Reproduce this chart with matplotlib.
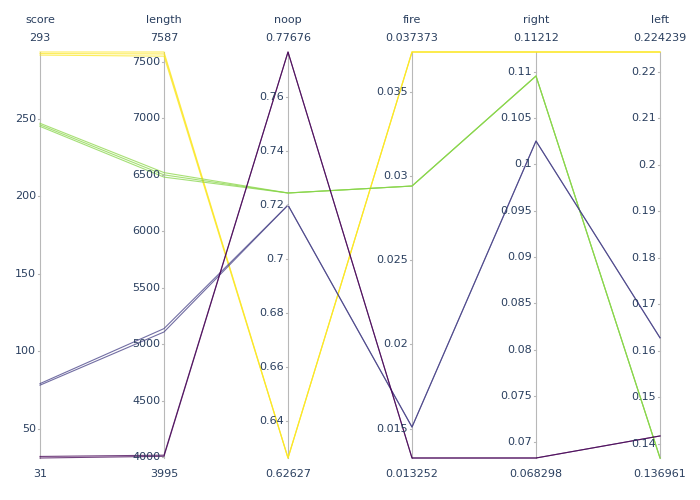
import matplotlib.pyplot as plt
import numpy as np

dims = ['score', 'length', 'noop', 'fire', 'right', 'left']
lo = [31, 3995, 0.62627, 0.013252, 0.068298, 0.136961]
hi = [293, 7587, 0.77676, 0.037373, 0.11212, 0.224239]
lo_lbl = ['31', '3995', '0.62627', '0.013252', '0.068298', '0.136961']
hi_lbl = ['293', '7587', '0.77676', '0.037373', '0.11212', '0.224239']
ticks = [
    [50, 100, 150, 200, 250],
    [4000, 4500, 5000, 5500, 6000, 6500, 7000, 7500],
    [0.64, 0.66, 0.68, 0.70, 0.72, 0.74, 0.76],
    [0.015, 0.02, 0.025, 0.03, 0.035],
    [0.07, 0.075, 0.08, 0.085, 0.09, 0.095, 0.1, 0.105, 0.11],
    [0.14, 0.15, 0.16, 0.17, 0.18, 0.19, 0.2, 0.21, 0.22],
]

score = [293, 292, 291, 247, 246, 245, 79, 78, 31, 32]
length = [7587, 7570, 7550, 6520, 6500, 6480, 5140, 5110, 4010, 4020]
noop = [0.62627, 0.62627, 0.62627, 0.7245, 0.7245, 0.7245, 0.7200, 0.7200, 0.77676, 0.77676]
fire = [0.037373, 0.037373, 0.037373, 0.02941, 0.02941, 0.02941, 0.01509, 0.01509, 0.013252, 0.013252]
right = [0.11212, 0.11212, 0.11212, 0.10953, 0.10953, 0.10953, 0.10251, 0.10251, 0.068298, 0.068298]
left = [0.224239, 0.224239, 0.224239, 0.136961, 0.136961, 0.136961, 0.1628, 0.1628, 0.1417, 0.1417]

data = np.array([score, length, noop, fire, right, left], dtype=float)
norm = (data - np.array(lo)[:, None]) / (np.array(hi) - np.array(lo))[:, None]

txt = '#2a3f5f'
fig = plt.figure(figsize=(7, 5), dpi=100)
ax = fig.add_axes([40 / 700, 42 / 500, 620 / 700, 406 / 500])
ax.set_xlim(0, 5)
ax.set_ylim(0, 1)
ax.axis('off')

cmap = plt.get_cmap('viridis')
x = np.arange(len(dims))
for i in range(data.shape[1]):
    c = cmap((score[i] - lo[0]) / (hi[0] - lo[0]))
    ax.plot(x, norm[:, i], color=c, lw=0.8, alpha=0.75, clip_on=False)

for j, d in enumerate(dims):
    ax.plot([j, j], [0, 1], color='#b8b8b8', lw=0.8, clip_on=False, zorder=0)
    for t in ticks[j]:
        yv = (t - lo[j]) / (hi[j] - lo[j])
        ax.plot([j - 0.02, j], [yv, yv], color='#b8b8b8', lw=0.8, clip_on=False)
        ax.text(j - 0.03, yv, f'{t:g}', ha='right', va='center', fontsize=8, color=txt)
    ax.text(j, 1.08, d, ha='center', va='center', fontsize=8, color=txt)
    ax.text(j, 1.035, hi_lbl[j], ha='center', va='center', fontsize=8, color=txt)
    ax.text(j, -0.04, lo_lbl[j], ha='center', va='center', fontsize=8, color=txt)

fig.savefig('out.png')
